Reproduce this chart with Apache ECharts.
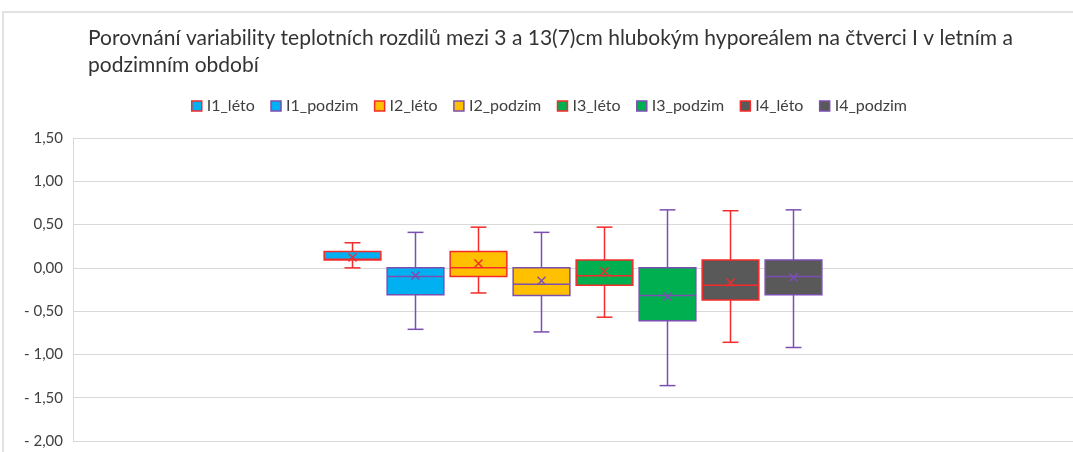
<!DOCTYPE html>
<html>
<head>
<meta charset="utf-8">
<script src="https://cdn.jsdelivr.net/npm/echarts@6/dist/echarts.min.js"></script>
<style>
  html,body{margin:0;padding:0;background:#fff;}
  #chart{width:1073px;height:452px;}
</style>
</head>
<body>
<div id="chart"></div>
<script>
// series (one box each)
var names   = ['I1_léto','I1_podzim','I2_léto','I2_podzim','I3_léto','I3_podzim','I4_léto','I4_podzim'];
var mins    = [0.00, -0.71, -0.29, -0.74, -0.57, -1.36, -0.86, -0.92];
var q1s     = [0.09, -0.31, -0.10, -0.32, -0.20, -0.61, -0.37, -0.31];
var medians = [0.10, -0.10,  0.00, -0.19, -0.09, -0.32, -0.20, -0.10];
var q3s     = [0.19,  0.00,  0.19,  0.00,  0.09,  0.00,  0.09,  0.09];
var maxs    = [0.29,  0.41,  0.47,  0.41,  0.47,  0.67,  0.66,  0.67];
var means   = [0.12, -0.09,  0.05, -0.15, -0.04, -0.33, -0.17, -0.11];
var category = ['I'];

var fills = ['#00B0F0','#00B0F0','#FFC000','#FFC000','#00B050','#00B050','#595959','#595959'];
var edges = ['#F52A2A','#7B4FB0','#F52A2A','#7B4FB0','#F52A2A','#7B4FB0','#F52A2A','#7B4FB0'];
var FONT = 'Lato, sans-serif';

function fmt(v){
  var s = Math.abs(v).toFixed(2).replace('.', ',');
  return v < 0 ? '- ' + s : s;
}

function renderBox(i){
  return function(params, api){
    var base = api.coord([0, 0]);
    var band = api.size([1, 0])[0];
    var slot = band * 0.063;
    var w = slot * 0.9;
    var cx = base[0] + (i - 3.5) * slot;
    var y = function(k){ return api.coord([0, api.value(k)])[1]; };
    var yMin = y(1), yQ1 = y(2), yMed = y(3), yQ3 = y(4), yMax = y(5), yMean = y(6);
    var cap = w * 0.14, xs = 4;
    var ln = {stroke: edges[i], lineWidth: 1.5};
    return {
      type: 'group',
      children: [
        {type:'line', shape:{x1:cx, y1:yMax, x2:cx, y2:yQ3}, style:ln},
        {type:'line', shape:{x1:cx, y1:yQ1, x2:cx, y2:yMin}, style:ln},
        {type:'line', shape:{x1:cx-cap, y1:yMax, x2:cx+cap, y2:yMax}, style:ln},
        {type:'line', shape:{x1:cx-cap, y1:yMin, x2:cx+cap, y2:yMin}, style:ln},
        {type:'rect', shape:{x:cx-w/2, y:yQ3, width:w, height:yQ1-yQ3},
          style:{fill:fills[i], stroke:edges[i], lineWidth:1.5}},
        {type:'line', shape:{x1:cx-w/2, y1:yMed, x2:cx+w/2, y2:yMed}, style:ln},
        {type:'line', shape:{x1:cx-xs, y1:yMean-xs, x2:cx+xs, y2:yMean+xs}, style:ln},
        {type:'line', shape:{x1:cx-xs, y1:yMean+xs, x2:cx+xs, y2:yMean-xs}, style:ln}
      ]
    };
  };
}

var series = names.map(function(n, i){
  return {
    name: n,
    type: 'custom',
    renderItem: renderBox(i),
    itemStyle: {color: fills[i], borderColor: edges[i]},
    encode: {x: 0, y: [1,2,3,4,5]},
    data: [[0, mins[i], q1s[i], medians[i], q3s[i], maxs[i], means[i]]]
  };
});

var chart = echarts.init(document.getElementById('chart'));
chart.setOption({
  backgroundColor: '#fff',
  animation: false,
  title: {
    text: 'Porovnání variability teplotních rozdilů mezi 3 a 13(7)cm hlubokým hyporeálem na čtverci I v letním a\npodzimním období',
    left: 83,
    top: 20,
    textStyle: {fontFamily: FONT, fontSize: 21, fontWeight: 'normal', color: '#333', lineHeight: 27}
  },
  legend: {
    left: 186,
    top: 93,
    icon: 'rect',
    itemWidth: 10,
    itemHeight: 10,
    itemGap: 15.5,
    textStyle: {fontFamily: FONT, fontSize: 16, color: '#404040'},
    data: names.map(function(n, i){
      return {name: n, itemStyle: {color: fills[i], borderColor: edges[i], borderWidth: 1.5}};
    })
  },
  graphic: [{
    type: 'rect',
    shape: {x: 3, y: 12, width: 1100, height: 500},
    style: {fill: 'none', stroke: '#D9D9D9', lineWidth: 1.5},
    silent: true
  }],
  grid: {left: 73, right: 0, top: 138, bottom: 11, containLabel: false},
  xAxis: {
    type: 'category',
    data: category,
    axisLine: {show: false},
    axisTick: {show: false},
    axisLabel: {show: false}
  },
  yAxis: {
    type: 'value',
    min: -2,
    max: 1.5,
    interval: 0.5,
    axisLine: {show: true, lineStyle: {color: '#D9D9D9'}},
    axisTick: {show: false},
    splitLine: {lineStyle: {color: '#D9D9D9', width: 1}},
    axisLabel: {fontFamily: FONT, fontSize: 15, color: '#404040', margin: 10, formatter: fmt}
  },
  series: series
});
</script>
</body>
</html>
